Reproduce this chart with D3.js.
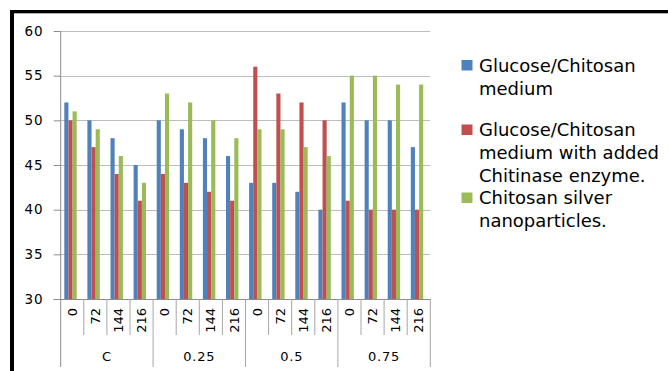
<!DOCTYPE html>
<html>
<head>
<meta charset="utf-8">
<script src="https://cdn.jsdelivr.net/npm/d3@7/dist/d3.min.js"></script>
<style>
  html, body { margin: 0; padding: 0; background: #fff; }
  svg { display: block; font-family: "DejaVu Sans", Verdana, sans-serif; }
</style>
</head>
<body>
<svg id="chart" width="668" height="371"></svg>
<script>
// Concentration groups and sampling times (hours)
const groups = ["C", "0.25", "0.5", "0.75"];
const times = ["0", "72", "144", "216"];

// Series values, one per (group, time) slot, in group order
const glucose    = [52, 50, 48, 45, 50, 49, 48, 46, 43, 43, 42, 40, 52, 50, 50, 47];
const chitinase  = [50, 47, 44, 41, 44, 43, 42, 41, 56, 53, 52, 50, 41, 40, 40, 40];
const silver     = [51, 49, 46, 43, 53, 52, 50, 48, 49, 49, 47, 46, 55, 55, 54, 54];

const seriesNames = [
  ["Glucose/Chitosan", "medium"],
  ["Glucose/Chitosan", "medium with added", "Chitinase enzyme."],
  ["Chitosan silver", "nanoparticles."]
];
const seriesColors = ["#4F81BD", "#C0504D", "#9BBB59"];
const yTicks = [30, 35, 40, 45, 50, 55, 60];

const series = [glucose, chitinase, silver];
const slots = [];
groups.forEach((g, gi) => times.forEach((t, ti) => slots.push({ id: gi * times.length + ti, group: g, time: t })));

const svg = d3.select("#chart");

// Outer frame (top and left rules)
svg.append("rect").attr("x", 10).attr("y", 10).attr("width", 658).attr("height", 3.3).attr("fill", "#000");
svg.append("rect").attr("x", 10).attr("y", 10).attr("width", 4).attr("height", 361).attr("fill", "#000");

const plot = { left: 60.7, right: 430.3, top: 31, bottom: 299 };

const y = d3.scaleLinear().domain([30, 60]).range([plot.bottom, plot.top]);
const x0 = d3.scaleBand().domain(slots.map(d => d.id)).range([plot.left, plot.right]).padding(0);
const bw = x0.bandwidth();
const x1 = d3.scaleBand().domain(d3.range(series.length)).range([bw * 0.156, bw * 0.693]).padding(0);

// Horizontal gridlines
svg.append("g").selectAll("line").data(yTicks.filter(v => v > 30)).join("line")
  .attr("x1", plot.left).attr("x2", plot.right)
  .attr("y1", d => Math.round(y(d)) + 0.5).attr("y2", d => Math.round(y(d)) + 0.5)
  .attr("stroke", "#bdbdbd").attr("stroke-width", 1);

// Y axis
const yAxis = svg.append("g").attr("transform", `translate(${plot.left},0)`)
  .call(d3.axisLeft(y).tickValues(yTicks).tickSize(7).tickPadding(10));
yAxis.selectAll(".tick line").attr("stroke", "#8c8c8c");
yAxis.selectAll(".tick text")
  .attr("font-family", "DejaVu Sans").attr("font-size", 13.5).attr("fill", "#000")
  .attr("letter-spacing", 1.0);
yAxis.select(".domain").remove();

// Bars
const barG = svg.append("g");
series.forEach((vals, si) => {
  barG.append("g").selectAll("rect").data(slots).join("rect")
    .attr("x", d => x0(d.id) + x1(si))
    .attr("width", x1.bandwidth())
    .attr("y", d => y(vals[d.id]))
    .attr("height", d => y(30) - y(vals[d.id]))
    .attr("fill", seriesColors[si]);
});

// Vertical axis line, baseline and category separators
const axisColor = "#a6a6a6";
svg.append("line").attr("x1", plot.left).attr("x2", plot.left).attr("y1", plot.top).attr("y2", 367)
  .attr("stroke", "#8c8c8c");
svg.append("line").attr("x1", plot.left - 7).attr("x2", plot.right).attr("y1", plot.bottom + 0.5).attr("y2", plot.bottom + 0.5)
  .attr("stroke", "#8c8c8c");

const sepG = svg.append("g");
slots.forEach(d => {
  if (d.id === 0) return;
  const xs = x0(d.id);
  const isGroupStart = d.id % times.length === 0;
  sepG.append("line")
    .attr("x1", xs).attr("x2", xs)
    .attr("y1", plot.bottom).attr("y2", isGroupStart ? 367 : 335)
    .attr("stroke", axisColor);
});
sepG.append("line").attr("x1", plot.right).attr("x2", plot.right)
  .attr("y1", plot.bottom).attr("y2", 367).attr("stroke", axisColor);

// Rotated time labels
svg.append("g").selectAll("text").data(slots).join("text")
  .attr("transform", d => `translate(${x0(d.id) + bw / 2},308) rotate(-90)`)
  .attr("text-anchor", "end").attr("dy", "0.35em")
  .attr("font-size", 13).attr("fill", "#000")
  .text(d => d.time);

// Group labels
svg.append("g").selectAll("text").data(groups).join("text")
  .attr("x", (g, gi) => (x0(gi * times.length) + x0((gi + 1) * times.length - 1) + bw) / 2)
  .attr("y", 360.5)
  .attr("text-anchor", "middle")
  .attr("font-size", 13).attr("fill", "#000")
  .attr("letter-spacing", 0.8)
  .text(g => g);

// Legend
const legendSquares = [60, 124.5, 192.5];
const legendBaselines = [[71.5, 94.5], [136, 159, 181.5], [204, 226.5]];
const legend = svg.append("g");
seriesNames.forEach((lines, si) => {
  legend.append("rect")
    .attr("x", 461.5).attr("y", legendSquares[si]).attr("width", 11).attr("height", 10.5)
    .attr("fill", seriesColors[si]);
  lines.forEach((line, li) => {
    legend.append("text")
      .attr("x", 479).attr("y", legendBaselines[si][li])
      .attr("font-size", 18).attr("fill", "#000")
      .text(line);
  });
});
</script>
</body>
</html>
